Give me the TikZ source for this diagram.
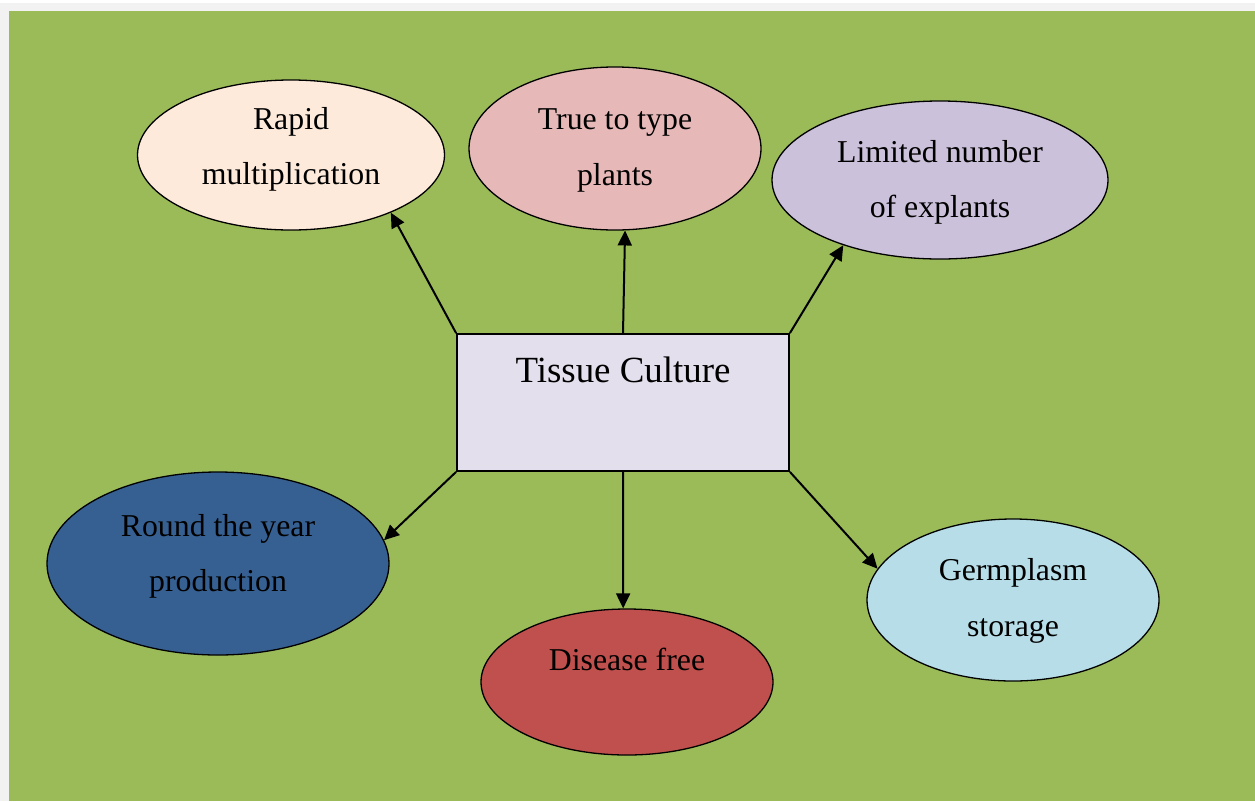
\documentclass[tikz,border=0pt]{standalone}
\usepackage{fontspec}
\setmainfont{Liberation Serif}
\usetikzlibrary{arrows.meta,shapes.geometric}
\definecolor{pagegray}{HTML}{F2F2F2}
\definecolor{leafgreen}{HTML}{9BBB59}
\definecolor{hubfill}{HTML}{E4DFEC}
\definecolor{rapidfill}{HTML}{FDEADA}
\definecolor{truefill}{HTML}{E6B9B8}
\definecolor{limitfill}{HTML}{CCC1DA}
\definecolor{roundfill}{HTML}{376092}
\definecolor{diseasefill}{HTML}{C0504D}
\definecolor{germfill}{HTML}{B7DEE8}
\tikzset{
	bubble/.style={
			ellipse, draw=black, line width=1.3pt, inner sep=0pt,
			align=center, font=\fontsize{31.8}{55.5}\selectfont
		},
	hubbox/.style={
			rectangle, draw=black, line width=1.8pt, fill=hubfill, inner sep=0pt,
			minimum width=332pt, minimum height=137pt,
			text height=26pt, text depth=67pt,
			font=\fontsize{36.9}{44}\selectfont
		},
	link/.style={line width=2pt, -{Triangle[length=15pt,width=14pt]}}
}

\begin{document}
\begin{tikzpicture}[x=1pt,y=-1pt]

	% Page and background
	\useasboundingbox (0,0) rectangle (1255,801);
	\fill[white] (0,0) rectangle (1255,801);
	\fill[pagegray] (0,3) rectangle (1255,801);
	\fill[leafgreen] (9,11) rectangle (1255,801);

	% Central box
	\node[hubbox] (tc) at (623,402.5) {Tissue Culture};

	% Surrounding ellipses
	\node[bubble, fill=rapidfill, minimum width=307pt, minimum height=150pt, text depth=18pt]
		(rapid) at (291,155) {Rapid\\multiplication};
	\node[bubble, fill=truefill, minimum width=292pt, minimum height=163pt, text depth=3pt]
		(truetype) at (615,148.5) {True to type\\plants};
	\node[bubble, fill=limitfill, minimum width=336pt, minimum height=158pt, text depth=2pt]
		(limited) at (940,180) {Limited number\\of explants};
	\node[bubble, fill=roundfill, minimum width=342pt, minimum height=183pt, text depth=21pt]
		(round) at (218,563.5) {Round the year\\production};
	\node[bubble, fill=diseasefill, minimum width=292pt, minimum height=146pt, text depth=46pt]
		(disease) at (627,682) {Disease free};
	\node[bubble, fill=germfill, minimum width=292pt, minimum height=162pt, text depth=5pt]
		(germ) at (1013,600) {Germplasm\\storage};

	% Arrows
	\draw[link] (tc.north west) -- (rapid.-30);
	\draw[link] (tc.north) -- (truetype.-83);
	\draw[link] (tc.north east) -- (limited.214);
	\draw[link] (tc.south west) -- (round.8);
	\draw[link] (tc.south) -- (disease.93);
	\draw[link] (tc.south east) -- (germ.167);

\end{tikzpicture}
\end{document}
